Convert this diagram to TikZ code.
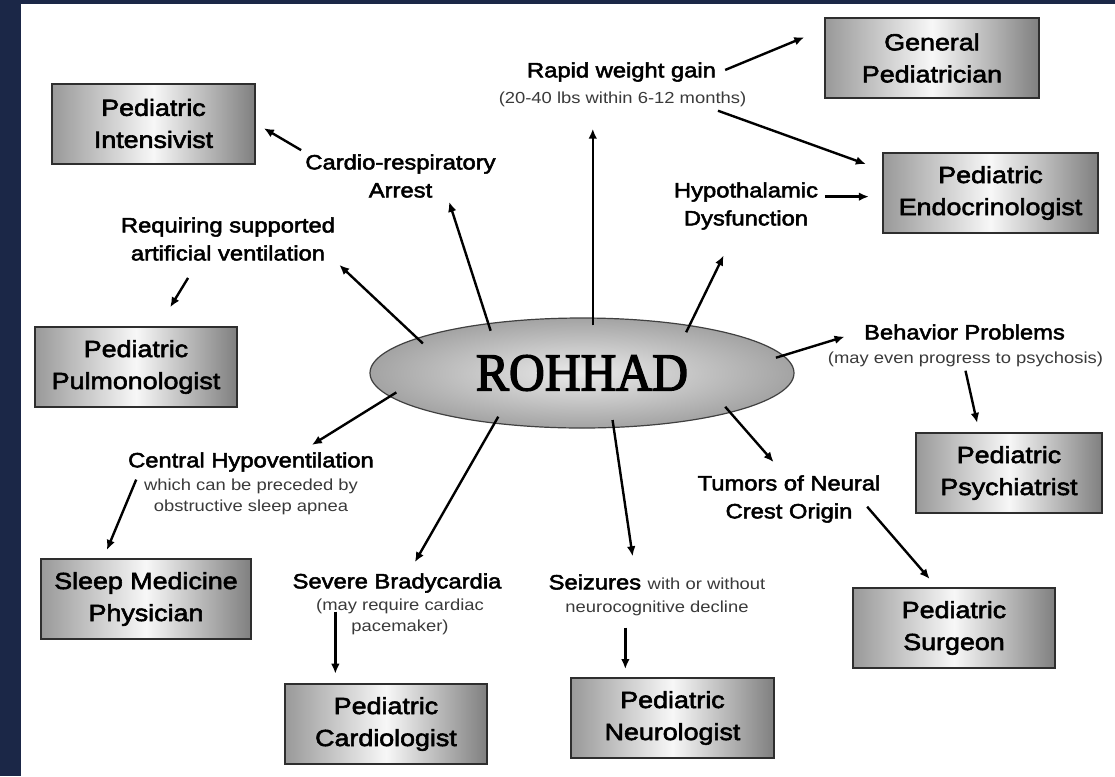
\documentclass[tikz,border=0pt]{standalone}
\usepackage{fontspec}
\usepackage{tikz}
\usetikzlibrary{arrows.meta,shapes.geometric}
\newfontfamily\boxfamily[FakeStretch=1.15,FakeBold=2.5]{Liberation Sans}
\newfontfamily\subfamily[FakeStretch=1.15]{Liberation Sans}
\newfontfamily\corefamily[FakeStretch=0.93,FakeBold=2.5]{Liberation Serif}
\definecolor{framenavy}{HTML}{1B2747}
\definecolor{boxedge}{HTML}{2E2E2E}
\definecolor{subgray}{HTML}{3A3A3A}
\tikzset{
  core/.style={ellipse, draw=black!75, line width=0.9pt, inner color=black!8,
    outer color=black!36, minimum width=318pt, minimum height=82.5pt, inner sep=0pt,
    font=\corefamily\fontsize{40}{42}\selectfont},
  spec/.style={draw=boxedge, line width=1.5pt, left color=black!40,
    right color=black!50, middle color=black!3, minimum height=60pt, inner sep=0pt,
    align=center, font=\boxfamily\fontsize{17.5}{24}\selectfont},
  sign/.style={align=center, inner sep=3pt, font=\boxfamily\fontsize{15.5}{21}\selectfont},
  signsub/.style={align=center, inner sep=3pt, text=subgray,
    font=\subfamily\fontsize{12}{16}\selectfont},
  arr/.style={-{Latex[length=7.5pt,width=6.5pt]}, line width=1.8pt},
  spoke/.style={arr, shorten <=-6pt},
}
\begin{document}
\begin{tikzpicture}[x=0.75pt,y=-0.75pt]
  \fill[framenavy] (0,0) rectangle (1115,776);
  \fill[white] (21,4) rectangle (1115,776);
  \useasboundingbox (0,0) rectangle (1115,776);
  % centre
  \node[core] (core) at (582,373) {ROHHAD};
  % specialists
  \node[spec, minimum width=152pt] (intens) at (153.5,123.5) {Pediatric\\Intensivist};
  \node[spec, minimum width=160.5pt] (general) at (932,58) {General\\Pediatrician};
  \node[spec, minimum width=161pt] (endo) at (990.5,193) {Pediatric\\Endocrinologist};
  \node[spec, minimum width=151.5pt] (pulmo) at (136,367) {Pediatric\\Pulmonologist};
  \node[spec, minimum width=139.5pt] (psych) at (1009,473) {Pediatric\\Psychiatrist};
  \node[spec, minimum width=157.5pt] (sleep) at (146,599) {Sleep Medicine\\Physician};
  \node[spec, minimum width=151.5pt] (cardbox) at (386,724) {Pediatric\\Cardiologist};
  \node[spec, minimum width=152pt] (neuro) at (672.5,718) {Pediatric\\Neurologist};
  \node[spec, minimum width=151.5pt] (surgeon) at (954,628) {Pediatric\\Surgeon};
  % symptoms
  \node[sign] (rapid) at (621.5,72) {Rapid weight gain};
  \node[signsub] (rapidsub) at (622.5,99) {(20-40 lbs within 6-12 months)};
  \node[sign] (cardio) at (400.5,176) {Cardio-respiratory\\Arrest};
  \node[sign] (vent) at (228,239) {Requiring supported\\artificial ventilation};
  \node[sign] (hypo) at (746,206) {Hypothalamic\\Dysfunction};
  \node[sign] (behav) at (964.5,332) {Behavior Problems};
  \node[signsub] (behavsub) at (965.5,359) {(may even progress to psychosis)};
  \node[sign] (tumor) at (789,499) {Tumors of Neural\\Crest Origin};
  \node[sign] (central) at (251,462) {Central Hypoventilation};
  \node[signsub] (centralsub) at (251,497) {which can be preceded by\\obstructive sleep apnea};
  \node[sign] (brady) at (397,583) {Severe Bradycardia};
  \node[signsub] (bradysub) at (400,617) {(may require cardiac\\pacemaker)};
  \node[sign] (seiz) at (657,582) {Seizures {\color{subgray}\subfamily\fontsize{12}{16}\selectfont with or without}};
  \node[signsub] (seizsub) at (657,608) {neurocognitive decline};
  % spokes out of the centre
  \draw[spoke, shorten >=13.5pt] (core.79) -- (core.79 |- rapidsub.south);
  \draw[spoke] (core.152) -- (cardio.-28);
  \draw[spoke] (core.168) -- (vent.south east);
  \draw[spoke, shorten >=18pt] (core.24) -- (hypo.-113);
  \draw[spoke, shorten >=12pt] (core.5) -- (behav.west);
  \draw[spoke, shorten >=9pt] (core.-15) -- (tumor.105);
  \draw[spoke, shorten >=4.5pt] (core.187) -- (central.14);
  \draw[spoke, shorten >=6pt] (core.210) -- (brady.45);
  \draw[spoke, shorten >=10.5pt] (core.-60) -- (seiz.152);
  % symptom to specialist
  \draw[arr, shorten <=4pt, shorten >=16pt] (rapid.east) -- (general.165);
  \draw[arr, shorten >=13pt] (rapidsub.-7) -- (endo.168);
  \draw[arr, shorten <=2pt, shorten >=10pt] (hypo.7) -- (hypo.7 -| endo.west);
  \draw[arr, shorten >=7pt] (cardio.north west) -- (intens.east);
  \draw[arr, shorten <=11.5pt, shorten >=16.5pt] (vent.-141) -- (pulmo.61);
  \draw[arr, shorten >=7pt] (behavsub.south) -- (psych.126);
  \draw[arr, shorten <=-20pt, shorten >=8pt] (tumor.south east) -- (surgeon.113);
  \draw[arr, shorten <=3pt, shorten >=6.5pt] (central.-173) -- (sleep.136);
  \draw[arr, shorten <=-4pt, shorten >=7pt] (cardbox.141 |- bradysub.west) -- (cardbox.141);
  \draw[arr, shorten <=6pt, shorten >=6pt] (neuro.139 |- seizsub.south) -- (neuro.139);
\end{tikzpicture}
\end{document}
